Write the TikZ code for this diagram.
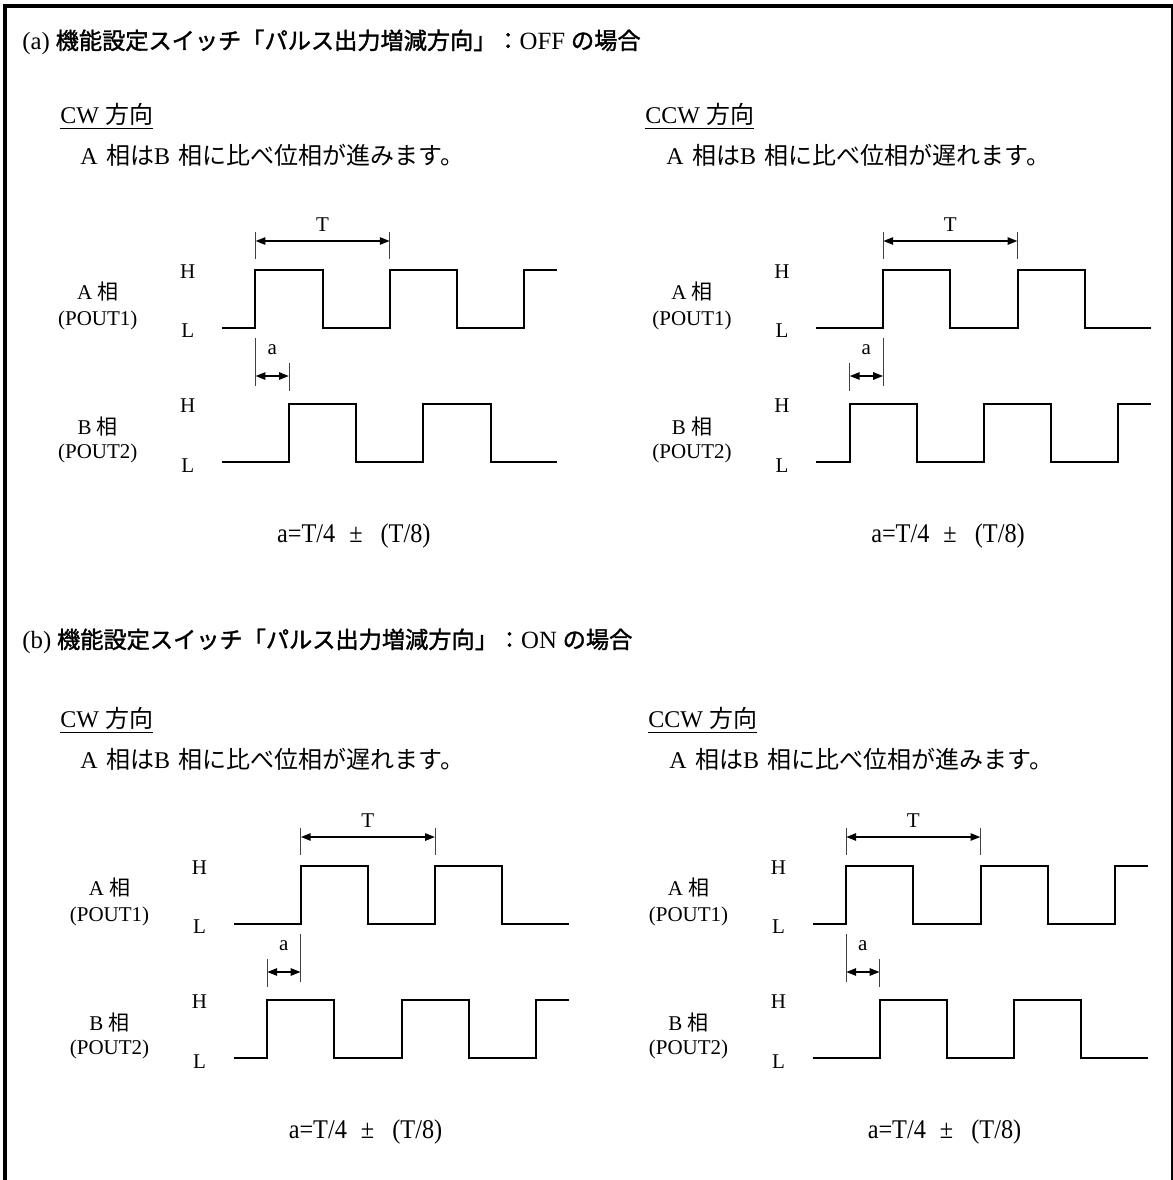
\documentclass[tikz,border=0pt]{standalone}
\usepackage{fontspec}
\setmainfont{Liberation Serif}
\newfontfamily\jp{Noto Sans CJK JP}
\newfontfamily\jpb{Noto Sans CJK JP}[FakeBold=1.5]
\newfontfamily\condser{Liberation Serif}[FakeStretch=0.9]
\usetikzlibrary{arrows.meta}

\tikzset{
  wave/.style={line width=1pt, line join=miter},
  tickln/.style={line width=0.45pt, black!75},
  dimarrow/.style={line width=1pt, {Triangle[length=5pt,width=3.6pt]}-{Triangle[length=5pt,width=3.6pt]}},
  lbl/.style={font=\fontsize{10.5pt}{12pt}\selectfont, inner sep=0pt},
  bodytxt/.style={font=\fontsize{12pt}{14pt}\selectfont, inner sep=0pt, anchor=west},
  headtxt/.style={font=\fontsize{11.6pt}{14pt}\selectfont, inner sep=0pt, anchor=west},
  formula/.style={font=\condser\fontsize{13.5pt}{15pt}\selectfont, inner sep=0pt},
  border/.style={line width=2pt},
}
\newcommand\hlat[1]{{\fontsize{12.4pt}{14pt}\selectfont #1}}

% #1 sx, #2 yH, #3 quarter offset of first rising edge (1 or 2)
\newcommand\sigwave[3]{%
  \ifnum#3=1
    \draw[wave] (#1,#2+57.6) -- ++(33.6,0) -- ++(0,-57.6) -- ++(67.2,0) -- ++(0,57.6)
      -- ++(67.2,0) -- ++(0,-57.6) -- ++(67.2,0) -- ++(0,57.6) -- ++(67.2,0) -- ++(0,-57.6)
      -- ++(32.6,0);
  \else
    \draw[wave] (#1,#2+57.6) -- ++(67.2,0) -- ++(0,-57.6) -- ++(67.2,0) -- ++(0,57.6)
      -- ++(67.2,0) -- ++(0,-57.6) -- ++(67.2,0) -- ++(0,57.6) -- ++(66.2,0);
  \fi
}

% #1 prefix, #2 sx, #3 yAH, #4 A quarter, #5 B quarter, #6 formula y offset
\newcommand\panel[6]{%
  \pgfmathsetmacro\ya{#3}
  \pgfmathsetmacro\yb{#3+134.3}
  \pgfmathsetmacro\ra{#2+#4*33.6}
  \pgfmathsetmacro\rb{#2+#5*33.6}
  \pgfmathsetmacro\lx{#2-34}
  \pgfmathsetmacro\nx{#2-124}
  \sigwave{#2}{\ya}{#4}
  \sigwave{#2}{\yb}{#5}
  % level labels
  \node[lbl] (#1HA) at (\lx,\ya+2) {H};
  \node[lbl] (#1LA) at (\lx,\ya+61) {L};
  \node[lbl] (#1HB) at (\lx,\yb+1) {H};
  \node[lbl] (#1LB) at (\lx,\yb+61) {L};
  % signal names
  \node[lbl] (#1nA) at (\nx,\ya+21) {A {\jp 相}};
  \node[lbl] (#1pA) at (\nx,\ya+50) {(POUT1)};
  \node[lbl] (#1nB) at (\nx,\yb+22) {B {\jp 相}};
  \node[lbl] (#1pB) at (\nx,\yb+49) {(POUT2)};
  % period T
  \draw[tickln] (\ra,\ya-38) -- (\ra,\ya-11);
  \draw[tickln] (\ra+134.4,\ya-38) -- (\ra+134.4,\ya-11);
  \coordinate (#1T1) at (\ra,\ya-29);
  \coordinate (#1T2) at (\ra+134.4,\ya-29);
  \draw[dimarrow] (#1T1) -- (#1T2);
  \node[lbl] (#1Tl) at (\ra+67.2,\ya-45) {T};
  % phase difference a
  \draw[tickln] (\ra,\ya+68) -- (\ra,\ya+116);
  \draw[tickln] (\rb,\ya+93) -- (\rb,\ya+121);
  \coordinate (#1a1) at (\rb,\ya+106);
  \coordinate (#1a2) at (\ra,\ya+106);
  \draw[dimarrow] (#1a1) -- (#1a2);
  \node[lbl] (#1al) at ({(\ra+\rb)/2},\ya+80) {a};
  % formula
  \node[formula] (#1f) at (#2+132,\ya+#6) {a=T/4\hspace{7pt}±\hspace{9pt}(T/8)};
}

\begin{document}
\begin{tikzpicture}[x=0.5pt,y=-0.5pt]
\useasboundingbox (0,0) rectangle (1173,1180);
% frame (open at the bottom)
\draw[border] (5,1180) -- (5,5.5) -- (1172,5.5);
\draw[line width=0.8pt] (1171.8,4) -- (1171.8,1180);

% ---------- (a) ----------
\node[headtxt] (ha) at (22,42) {\hlat{(a)} {\jpb 機能設定スイッチ「パルス出力増減方向」：}\hlat{OFF} {\jpb の場合}};
\node[bodytxt] (cwa) at (60,116) {\underline{CW {\jp 方向}}};
\node[bodytxt] (cwat) at (80,155) {A\hspace{0.35em}{\jp 相は}B\hspace{0.35em}{\jp 相に比べ位相が進みます。}};
\node[bodytxt] (ccwa) at (645,116) {\underline{CCW {\jp 方向}}};
\node[bodytxt] (ccwat) at (666,155) {A\hspace{0.35em}{\jp 相は}B\hspace{0.35em}{\jp 相に比べ位相が遅れます。}};

\panel{TL}{221.8}{270}{1}{2}{266}
\panel{TR}{816}{270}{2}{1}{266}

% ---------- (b) ----------
\node[headtxt] (hb) at (22,641) {\hlat{(b)} {\jpb 機能設定スイッチ「パルス出力増減方向」：}\hlat{ON} {\jpb の場合}};
\node[bodytxt] (cwb) at (60,720) {\underline{CW {\jp 方向}}};
\node[bodytxt] (cwbt) at (80,759) {A\hspace{0.35em}{\jp 相は}B\hspace{0.35em}{\jp 相に比べ位相が遅れます。}};
\node[bodytxt] (ccwb) at (648,720) {\underline{CCW {\jp 方向}}};
\node[bodytxt] (ccwbt) at (669,759) {A\hspace{0.35em}{\jp 相は}B\hspace{0.35em}{\jp 相に比べ位相が進みます。}};

\panel{BL}{233.5}{866}{2}{1}{266}
\panel{BR}{812.5}{866}{1}{2}{266}
\end{tikzpicture}
\end{document}
